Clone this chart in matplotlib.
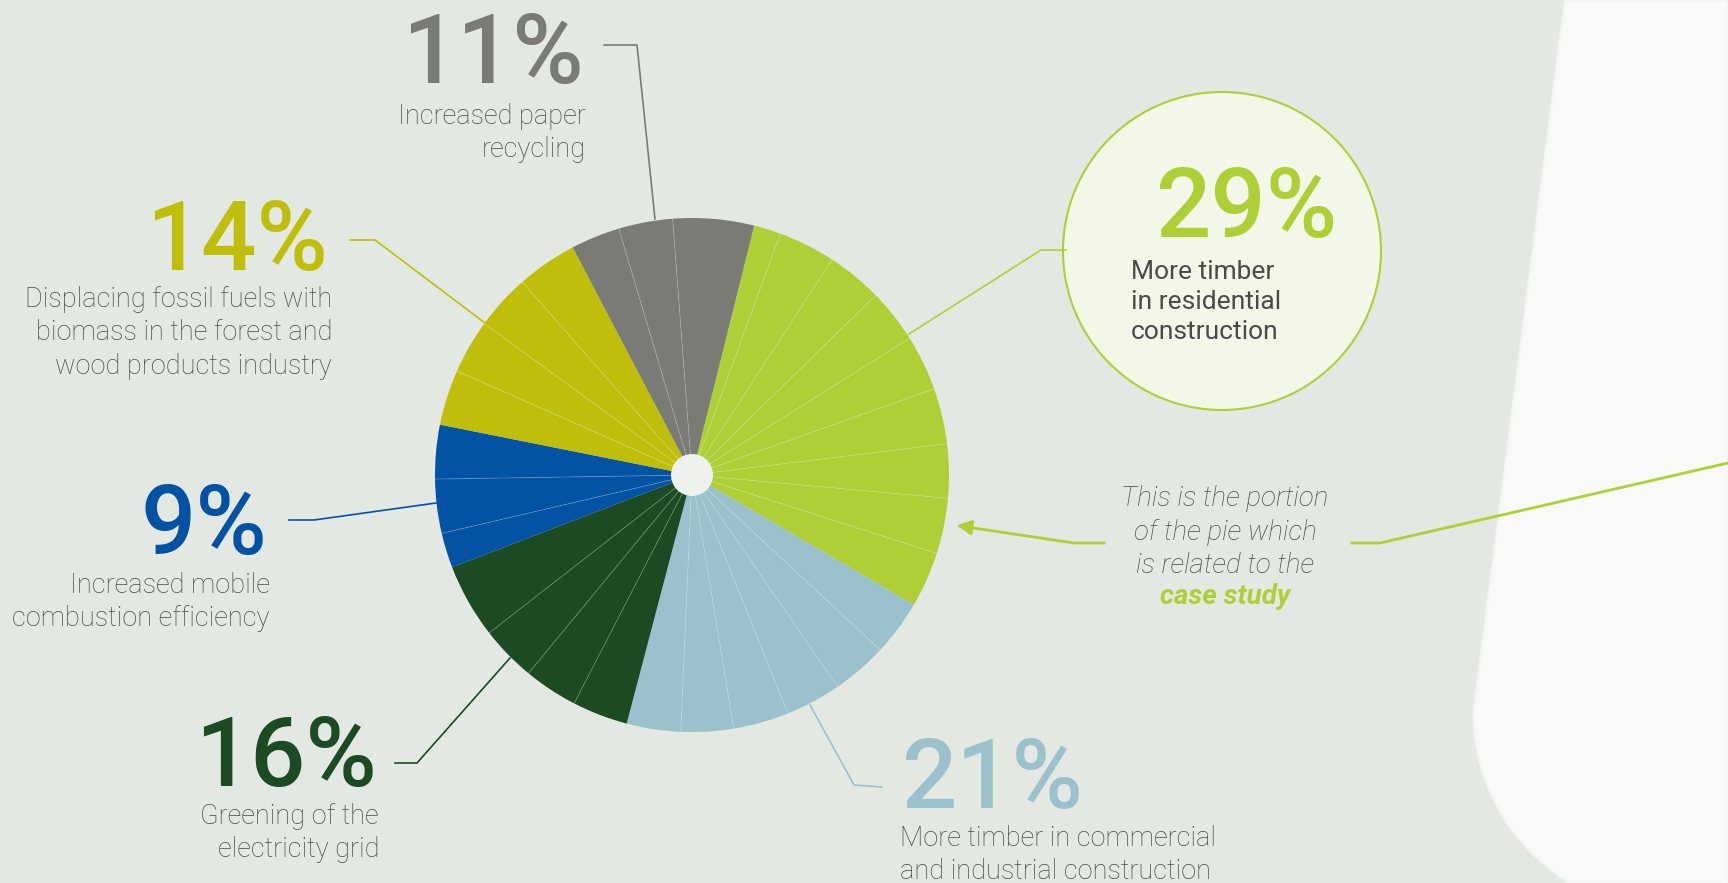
import numpy as np
import matplotlib.pyplot as plt
from matplotlib.patches import Circle, PathPatch
from matplotlib.path import Path

# categories, clockwise from the top
categories = ["More timber in\nresidential construction",
              "More timber in commercial\nand industrial construction",
              "Greening of the\nelectricity grid",
              "Increased mobile\ncombustion efficiency",
              "Displacing fossil fuels with\nbiomass in the forest and\nwood products industry",
              "Increased paper\nrecycling"]
pct_values = [29, 21, 16, 9, 14, 11]
colors = ['#afcf37', '#9ac1cc', '#1b4a23', '#0352a3', '#bfbf0b', '#7a7b74']

# thin sub-slices inside each category (in %)
sub_slices = [
    [1.7, 3.6, 3.5, 3.4, 3.5, 3.5, 3.4, 3.5, 3.5],
    [3.5, 3.5, 3.5, 3.5, 3.3, 3.4],
    [3.5, 3.4, 3.5, 4.7],
    [2.2, 3.4, 3.4],
    [3.5, 3.4, 3.5, 3.8],
    [3.1, 3.4, 5.1],
]

label_texts = ["More timber\nin residential\nconstruction",
               "More timber in commercial\nand industrial construction",
               "Greening of the\nelectricity grid",
               "Increased mobile\ncombustion efficiency",
               "Displacing fossil fuels with\nbiomass in the forest and\nwood products industry",
               "Increased paper\nrecycling"]

BG = '#e3e8e2'
TXT = '#4a4a48'
H = 883

plt.rcParams['font.family'] = ['Roboto', 'DejaVu Sans']

fig = plt.figure(figsize=(17.28, 8.83), dpi=100, facecolor=BG)
ax = fig.add_axes([0, 0, 1, 1])
ax.set_facecolor(BG)

# right hand panel
verts = [(1565, H), (1476, 190), (1468, 150), (1480, 55), (1570, 0), (1728, 0), (1728, H), (1565, H)]
codes = [Path.MOVETO, Path.LINETO, Path.CURVE4, Path.CURVE4, Path.CURVE4, Path.LINETO, Path.LINETO, Path.CLOSEPOLY]
ax.add_patch(PathPatch(Path(verts, codes), fc='#f9f9f7', ec='#f4f5f2', lw=1.5, zorder=0))

# pie
cx, cy, R = 692, H - 475, 257
flat = [v for grp in sub_slices for v in grp]
flat_colors = [colors[i] for i, grp in enumerate(sub_slices) for _ in grp]
wedges, _ = ax.pie(flat, colors=flat_colors, startangle=76, counterclock=False,
                   radius=R, center=(cx, cy), wedgeprops=dict(linewidth=0))

# faint spokes between the sub-slices
total = sum(flat)
start = 76
acc = 0
for grp in sub_slices:
    for j, v in enumerate(grp):
        acc += v
        if j < len(grp) - 1:
            ang = np.deg2rad(start - acc / total * 360)
            ax.plot([cx, cx + R * np.cos(ang)], [cy, cy + R * np.sin(ang)],
                    color='white', alpha=0.2, lw=0.7, zorder=3)

ax.add_patch(Circle((cx, cy), 21, fc='#eef1ec', ec='none', zorder=4))

# leader lines (layout)
leaders = [
    ([909, 1041, 1066], [334, 250, 250]),
    ([810, 854, 882], [705, 785, 787]),
    ([510, 417, 395], [658, 763, 763]),
    ([436, 314, 289], [503, 520, 520]),
    ([485, 375, 350], [323, 240, 240]),
    ([655, 637, 604], [219, 45, 45]),
]
for (xs, ys), c in zip(leaders, colors):
    ax.plot(xs, [H - y for y in ys], color=c, lw=1.2, zorder=2)

# callout circle for the residential slice
ax.add_patch(Circle((1222, H - 251), 159, fc='#f3f7e8', ec=colors[0], lw=1.5, zorder=1))

pct_kw = dict(fontsize=70, va='baseline', fontweight='medium')
lab_kw = dict(fontsize=19.5, color=TXT, va='center', linespacing=1.32, fontweight='light')

# (x, baseline, ha) for the big numbers, (x, centre y, ha) for labels
pct_pos = [(1155, 237, 'left'), (901, 808, 'left'), (377, 786, 'right'),
           (267, 554, 'right'), (328, 270, 'right'), (584, 83, 'right')]
lab_pos = [(1131, 302, 'left'), (900, 855, 'left'), (379, 833, 'right'),
           (270, 602, 'right'), (332, 333, 'right'), (586, 133, 'right')]

for i in range(len(pct_values)):
    x, y, ha = pct_pos[i]
    ax.text(x, H - y, f"{pct_values[i]}%", color=colors[i], ha=ha, **pct_kw)
    x, y, ha = lab_pos[i]
    kw = dict(lab_kw)
    if i == 0:
        kw['fontweight'] = 'normal'
        kw['fontsize'] = 19
    ax.text(x, H - y, label_texts[i], ha=ha, multialignment=ha, **kw)

# case study note
ax.text(1225, H - 532, "This is the portion\nof the pie which\nis related to the", ha='center',
        va='center', fontsize=20, style='italic', fontweight='light', color=TXT, linespacing=1.3)
ax.text(1225, H - 597, "case study", ha='center', va='center', fontsize=20, style='italic',
        fontweight='bold', color=colors[0])
ax.plot([1104, 1074, 960], [H - 543, H - 543, H - 526], color=colors[0], lw=2, zorder=2)
ax.annotate('', xy=(954, H - 525), xytext=(975, H - 528),
            arrowprops=dict(arrowstyle='-|>', color=colors[0], lw=2, mutation_scale=22))
ax.plot([1352, 1380, 1728], [H - 543, H - 543, H - 463], color=colors[0], lw=2, zorder=2)

ax.set_xlim(0, 1728)
ax.set_ylim(0, H)
ax.set_aspect('auto')
ax.axis('off')

fig.savefig('out.png', dpi=100, facecolor=BG)
